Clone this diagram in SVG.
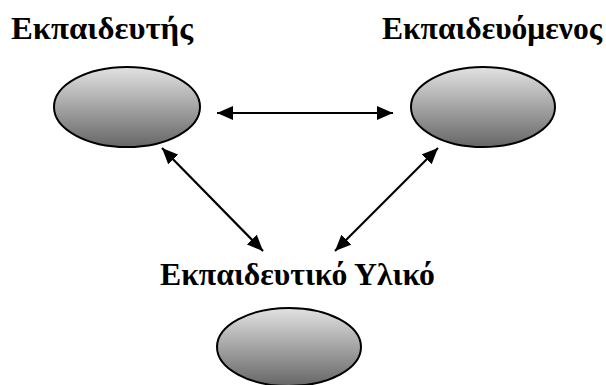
<svg xmlns="http://www.w3.org/2000/svg" width="606" height="385" viewBox="0 0 606 385">
<defs>
<linearGradient id="g" x1="0" y1="0" x2="0" y2="1">
<stop offset="0" stop-color="#e2e2e2"/>
<stop offset="1" stop-color="#666"/>
</linearGradient>
<marker id="ah" viewBox="0 0 16 14" refX="16" refY="7" markerWidth="16" markerHeight="14" markerUnits="userSpaceOnUse" orient="auto-start-reverse">
<path d="M0,0 L16,7 L0,14 z" fill="#000"/>
</marker>
<style>
.n{fill:url(#g);stroke:#000;stroke-width:2}
.t{font-family:"Liberation Serif","Times New Roman",serif;font-weight:bold;font-size:31px;fill:#000}
.c{stroke:#000;stroke-width:2.2;fill:none}
</style>
</defs>
<rect width="606" height="385" fill="#fff"/>
<g id="connectors">
<line class="c" x1="217" y1="113" x2="393" y2="113" marker-start="url(#ah)" marker-end="url(#ah)"/>
<line class="c" x1="162" y1="148" x2="263" y2="251" marker-start="url(#ah)" marker-end="url(#ah)"/>
<line class="c" x1="438" y1="148" x2="335" y2="251" marker-start="url(#ah)" marker-end="url(#ah)"/>
</g>
<g id="ekpaideftis">
<text class="t" x="11" y="39" textLength="182" lengthAdjust="spacingAndGlyphs">Εκπαιδευτής</text>
<ellipse class="n" cx="127" cy="107" rx="73" ry="40"/>
</g>
<g id="ekpaidevomenos">
<text class="t" x="382" y="39" textLength="220" lengthAdjust="spacingAndGlyphs">Εκπαιδευόμενος</text>
<ellipse class="n" cx="483" cy="107" rx="72" ry="40"/>
</g>
<g id="yliko">
<text class="t" x="160" y="285" textLength="275" lengthAdjust="spacingAndGlyphs">Εκπαιδευτικό Υλικό</text>
<ellipse class="n" cx="289" cy="347" rx="72" ry="39"/>
</g>
</svg>
